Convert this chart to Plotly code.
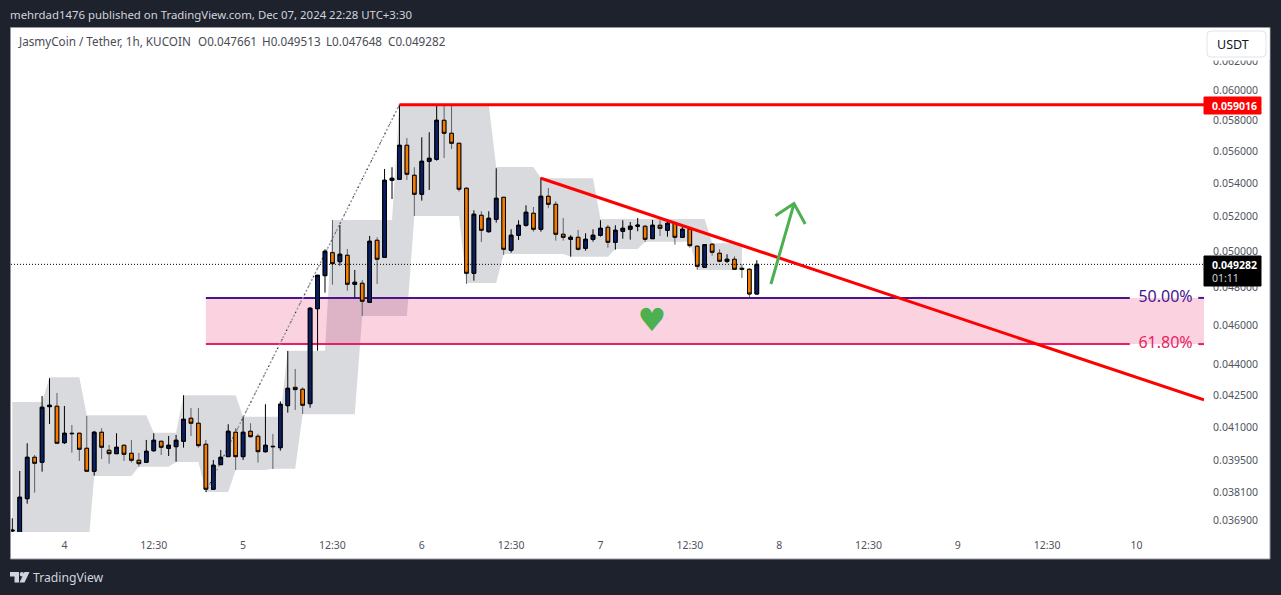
import pandas as pd
import plotly.graph_objects as go

# hourly bars, first one on Dec 3 at 17:30 (chart is in UTC+3:30)
opens = [.036476, .036107, .03783, .039639, .039417, .04197, .041989, .040298, .040728, .040728,
         .040043, .039018, .040774, .039953, .0398, .04018, .039818, .039506, .039417, .039935,
         .040362, .040043, .040116, .040362, .041423, .041191, .040225, .038233, .03931, .039667,
         .040774, .039667, .04082, .04059, .03989, .040135, .040071, .042017, .042895, .042802,
         .042112, .046877, .048657, .049936, .049431, .04979, .048187, .048241, .047218, .05064,
         .049677, .054188, .054249, .056371, .054495, .053339, .055362, .055487, .057984, .05714,
         .056499, .053701, .048789, .05209, .051134, .051854, .053158, .050071, .050928, .051505,
         .052208, .051272, .053219, .052739, .050984, .050697, .05081, .050184, .050697, .050928,
         .051388, .050526, .051157, .051272, .051447, .051447, .050731, .051505, .051215, .051622,
         .05081, .051272, .050299, .049122, .050413, .049902, .049454, .049565, .049065, .049009,
         .047661]
highs = [.037003, .039031, .040271, .039742, .04248, .043336, .042624, .042003, .041112, .040756,
         .041531, .040834, .040958, .040193, .040728, .040207, .040421, .039832, .040421, .040728,
         .040376, .040604, .04065, .042514, .041908, .041908, .040421, .039519, .039967, .041144,
         .040958, .041498, .041191, .040696, .042084, .040696, .042226, .044693, .043793, .042895,
         .046952, .04869, .050127, .051813, .051523, .050145, .048971, .048421, .050887, .05081,
         .054883, .054989, .059016, .056838, .054989, .056881, .057204, .059016, .058925, .059016,
         .056499, .053762, .052384, .052325, .052325, .054926, .053158, .051272, .051795, .05268,
         .052579, .054372, .05372, .052918, .051931, .050928, .051232, .051042, .051272, .051795,
         .051523, .051505, .051795, .051696, .051931, .051523, .051813, .051795, .051755, .051696,
         .051505, .05133, .050356, .050413, .05047, .050127, .049846, .049733, .049287, .049065,
         .049513]
lows = [.036242, .035836, .037617, .038087, .039, .041158, .040271, .040239, .039846, .039475,
        .039018, .038824, .039562, .039354, .0398, .039475, .039399, .039221, .039417, .03989,
        .039742, .039697, .039443, .040071, .040604, .040071, .038117, .038233, .03931, .039667,
        .039075, .039519, .040527, .039399, .039846, .039118, .039935, .041686, .041813, .041625,
        .041922, .044708, .047733, .048165, .049209, .04784, .047464, .046493, .047218, .048203,
        .049677, .053056, .054249, .054206, .052049, .052955, .053598, .055399, .055568, .056135,
        .053496, .048203, .048383, .050543, .051077, .051657, .049807, .049936, .050657, .051424,
        .051134, .051134, .052503, .050617, .050617, .049711, .050049, .050049, .050561, .050848,
        .050218, .050105, .050731, .050674, .051157, .050543, .050731, .050887, .050848, .050389,
        .05081, .050218, .048988, .049122, .049768, .049398, .049359, .049009, .048531, .047485,
        .047648]
closes = [.036505, .037891, .039639, .039372, .041941, .042036, .040271, .040728, .04071, .039998,
          .039018, .040774, .040089, .0398, .040089, .039773, .039506, .039354, .039908, .040407,
          .040089, .04018, .040407, .041376, .041191, .040162, .038233, .039283, .039639, .04082,
          .039667, .040774, .040571, .03989, .04018, .040116, .042084, .042848, .042783, .042036,
          .046899, .048679, .050015, .04932, .049846, .048187, .048296, .047271, .050583, .049565,
          .054188, .054311, .056371, .054557, .053339, .055362, .055549, .057984, .05714, .056499,
          .053641, .048789, .052149, .051215, .051913, .053098, .050127, .050928, .051505, .052267,
          .051272, .053219, .052739, .050984, .05081, .05081, .050127, .050697, .050928, .05133,
          .050526, .051215, .05133, .051447, .051505, .050697, .051505, .05133, .051622, .05081,
          .051272, .050332, .049175, .050389, .049959, .049454, .049565, .049009, .049009, .04766,
          .049282]

# shaded indicator band, one value per bar up to bar 98
band_upper = [.042193, .042193, .042193, .042193, .042193, .043385, .043385, .043385, .043385, .043385,
              .041564, .041564, .041564, .041564, .041564, .041564, .041564, .041564, .041564, .040756,
              .040756, .040756, .040756, .042514, .042514, .042514, .042514, .042514, .042514, .042514,
              .042514, .041498, .041498, .041498, .041498, .041498, .041498, .044708, .044708, .044708,
              .044708, .044708, .044708, .051813, .051813, .051813, .051813, .051813, .051813, .051813,
              .051813, .051813, .059016, .059016, .059016, .059016, .059016, .059016, .059016, .059016,
              .059016, .059016, .059016, .059016, .059016, .055008, .055008, .055008, .055008, .055008,
              .055008, .054311, .054311, .054311, .054311, .054311, .054311, .054311, .054311, .051872,
              .051872, .051872, .051872, .051872, .051872, .051872, .051872, .051872, .051872, .051872,
              .051872, .051872, .051872, .051872, .05047, .05047, .05047, .05047, .05047]
band_lower = [.035101, .035101, .035101, .035101, .035101, .035101, .035101, .035101, .035101, .035101,
              .035101, .03881, .03881, .03881, .03881, .03881, .03881, .03922, .03922, .03922,
              .03922, .03922, .039428, .039428, .039428, .039428, .038115, .038115, .038115, .038115,
              .039074, .039074, .039074, .039074, .039074, .039131, .039131, .039131, .039131, .041609,
              .041609, .041609, .041609, .041609, .041609, .041609, .041609, .046491, .046491, .046491,
              .046491, .046491, .046491, .046491, .052046, .052046, .052046, .052046, .052046, .052046,
              .052046, .048256, .048256, .048256, .048256, .048256, .049861, .049861, .049861, .049861,
              .049861, .049861, .049861, .049861, .049861, .049709, .049709, .049709, .049709, .049709,
              .049709, .050143, .050143, .050143, .050143, .050558, .050558, .050558, .050558, .050558,
              .050558, .050558, .048969, .048969, .048969, .048969, .048969, .048969, .048969]

# price axis and time axis labels
price_ticks = [.062, .06, .058, .056, .054, .052, .05, .048, .046, .044, .0425, .041, .0395, .0381, .0369]
price_labels = ['0.062000', '0.060000', '0.058000', '0.056000', '0.054000', '0.052000', '0.050000', '0.048000',
                '0.046000', '0.044000', '0.042500', '0.041000', '0.039500', '0.038100', '0.036900']
time_ticks = ['2024-12-04 00:30', '2024-12-04 12:30', '2024-12-05 00:30', '2024-12-05 12:30', '2024-12-06 00:30',
              '2024-12-06 12:30', '2024-12-07 00:30', '2024-12-07 12:30', '2024-12-08 00:30', '2024-12-08 12:30',
              '2024-12-09 00:30', '2024-12-09 12:30', '2024-12-10 00:30']
time_labels = ['4', '12:30', '5', '12:30', '6', '12:30', '7', '12:30', '8', '12:30', '9', '12:30', '10']

# drawings on the chart
x_range = ['2024-12-03 17:19:30', '2024-12-10 09:34:00']
last_close = .049282
swing_high = .059016
swing_low = .038115
fib_50 = .04745
fib_618 = .04504
trend_start = .05431
trend_end = .04229
arrow_times = ['2024-12-07 23:24', '2024-12-08 02:30', '2024-12-08 00:00', '2024-12-08 02:30', '2024-12-08 04:00']
arrow_prices = [.0482, .05278, .05206, .05278, .05158]
heart_time = ['2024-12-07 07:24']
heart_price = [.04612]

NAVY = '#0b1f63'
ORANGE = '#f57c00'
PURPLE = '#4a148c'
PINK = '#e91e63'
RED = '#ff0000'
GREEN = '#4caf50'
DARK = '#1e222d'
GRAY_TEXT = '#50535e'
TEXT_FONT = 'Noto Sans'

times = pd.date_range('2024-12-03 17:30', periods=len(opens), freq='h').strftime('%Y-%m-%d %H:%M').tolist()
fib_start = times[26]
gap_a = '2024-12-09 23:36'
gap_b = '2024-12-10 08:48'
label_time = '2024-12-10 04:24'

fig = go.Figure()

# gray band
fig.add_trace(go.Scatter(
    x=times[:99] + times[:99][::-1],
    y=band_upper + band_lower[::-1],
    fill='toself', fillcolor='#d9dade', mode='lines', line=dict(width=0),
    hoverinfo='skip', zorder=0
))

# fib zone between the two levels
fig.add_trace(go.Scatter(
    x=[fib_start, x_range[1], x_range[1], fib_start],
    y=[fib_50, fib_50, fib_618, fib_618],
    fill='toself', fillcolor='rgba(233,30,99,0.2)', mode='lines', line=dict(width=0),
    hoverinfo='skip', zorder=1
))
fig.add_trace(go.Scatter(
    x=[fib_start, gap_a, None, gap_b, x_range[1]], y=[fib_50, fib_50, None, fib_50, fib_50],
    mode='lines', line=dict(color=PURPLE, width=2), hoverinfo='skip', zorder=1
))
fig.add_trace(go.Scatter(
    x=[fib_start, gap_a, None, gap_b, x_range[1]], y=[fib_618, fib_618, None, fib_618, fib_618],
    mode='lines', line=dict(color=PINK, width=2), hoverinfo='skip', zorder=1
))

# dotted swing line from low to high
fig.add_trace(go.Scatter(
    x=[fib_start, times[52]], y=[swing_low, swing_high],
    mode='lines', line=dict(color='#9598a1', width=1.5, dash='2px,2px'), hoverinfo='skip', zorder=1
))
fig.add_trace(go.Scatter(
    x=[fib_start, times[52]], y=[swing_low, swing_high],
    mode='lines', line=dict(color='#131722', width=1, dash='1px,9px'), hoverinfo='skip', zorder=1
))

# wicks first, then bodies with a black edge (down wicks are gray in the original)
fig.add_trace(go.Candlestick(
    x=times, open=opens, high=highs, low=lows, close=closes,
    increasing=dict(line=dict(color='#000000', width=1), fillcolor=NAVY),
    decreasing=dict(line=dict(color='#5d606b', width=1), fillcolor=ORANGE),
    whiskerwidth=0, hoverinfo='skip', zorder=2
))
body_top = [max(o, c) for o, c in zip(opens, closes)]
body_bottom = [min(o, c) for o, c in zip(opens, closes)]
fig.add_trace(go.Candlestick(
    x=times, open=opens, high=body_top, low=body_bottom, close=closes,
    increasing=dict(line=dict(color='#000000', width=1), fillcolor=NAVY),
    decreasing=dict(line=dict(color='#000000', width=1), fillcolor=ORANGE),
    whiskerwidth=0, hoverinfo='skip', zorder=2
))

# last price line
fig.add_trace(go.Scatter(
    x=x_range, y=[last_close, last_close],
    mode='lines', line=dict(color='#000000', width=1, dash='1px,2px'), hoverinfo='skip', zorder=3
))

# red lines
fig.add_trace(go.Scatter(
    x=[times[52], x_range[1]], y=[swing_high, swing_high],
    mode='lines', line=dict(color=RED, width=3), hoverinfo='skip', zorder=4
))
fig.add_trace(go.Scatter(
    x=[times[71], x_range[1]], y=[trend_start, trend_end],
    mode='lines', line=dict(color=RED, width=3), hoverinfo='skip', zorder=4
))

# green arrow and heart
fig.add_trace(go.Scatter(
    x=arrow_times, y=arrow_prices,
    mode='lines', line=dict(color=GREEN, width=3), hoverinfo='skip', zorder=4
))
fig.add_trace(go.Scatter(
    x=heart_time, y=heart_price, mode='text', text=['\u2665'],
    textfont=dict(family='DejaVu Sans', size=32, color=GREEN), hoverinfo='skip', zorder=4
))

# fib labels
fig.add_trace(go.Scatter(
    x=[label_time, label_time], y=[fib_50, fib_618], mode='text', text=['50.00%', '61.80%'],
    textfont=dict(family=TEXT_FONT, size=16, color=[PURPLE, PINK]), hoverinfo='skip', zorder=4
))


# helpers for the page furniture, pixel position to paper fraction
def fx(x):
    return (x - 11) / 1193


def fy(y):
    return (532 - y) / 504


def box(x0, y0, x1, y1, fill, line=None, layer='above'):
    return dict(type='rect', xref='paper', yref='paper', x0=fx(x0), y0=fy(y0), x1=fx(x1), y1=fy(y1),
                fillcolor=fill, line=dict(color=line or fill, width=1), layer=layer)


def label(x, y, text, color, size=12, anchor='left', weight=None):
    fig.add_annotation(xref='paper', yref='paper', x=fx(x), y=fy(y), text=text, showarrow=False,
                       xanchor=anchor, yanchor='middle', borderpad=0, borderwidth=0,
                       font=dict(family=TEXT_FONT, size=size, color=color, weight=weight))


shapes = [
    box(10.5, 27.5, 1270, 559, '#ffffff', '#9598a1', 'below'),
    box(1204, 97, 1261, 114, RED),
    box(1204, 256, 1261, 286, '#000000'),
    # the top tick label is half hidden behind the currency button
    box(1205, 29, 1269, 60, '#ffffff'),
    dict(type='path', xref='paper', yref='paper', layer='above', fillcolor='#ffffff',
         line=dict(color='#e0e3eb', width=1),
         path=f'M {fx(1211)} {fy(31)} L {fx(1262)} {fy(31)} Q {fx(1266)} {fy(31)} {fx(1266)} {fy(35)} '
              f'L {fx(1266)} {fy(53)} Q {fx(1266)} {fy(57)} {fx(1262)} {fy(57)} L {fx(1211)} {fy(57)} '
              f'Q {fx(1207)} {fy(57)} {fx(1207)} {fy(53)} L {fx(1207)} {fy(35)} Q {fx(1207)} {fy(31)} {fx(1211)} {fy(31)} Z'),
    # TradingView mark
    dict(type='path', xref='paper', yref='paper', layer='above', fillcolor='#d1d4dc', line=dict(width=0),
         path=f'M {fx(10)} {fy(572)} L {fx(19)} {fy(572)} L {fx(19)} {fy(582.5)} L {fx(14.5)} {fy(582.5)} '
              f'L {fx(14.5)} {fy(576.5)} L {fx(10)} {fy(576.5)} Z'),
    dict(type='path', xref='paper', yref='paper', layer='above', fillcolor='#d1d4dc', line=dict(width=0),
         path=f'M {fx(24.5)} {fy(572)} L {fx(29.5)} {fy(572)} L {fx(24.5)} {fy(582.5)} L {fx(19.5)} {fy(582.5)} Z'),
    dict(type='circle', xref='paper', yref='paper', layer='above', fillcolor='#d1d4dc', line=dict(width=0),
         x0=fx(19.8), y0=fy(576.4), x1=fx(24), y1=fy(572)),
]

fig.update_layout(
    width=1281, height=595,
    margin=dict(l=11, r=77, t=28, b=63),
    paper_bgcolor=DARK,
    plot_bgcolor='rgba(0,0,0,0)',
    showlegend=False,
    boxgap=0.3,
    shapes=shapes,
    xaxis=dict(
        type='date', range=x_range, rangeslider=dict(visible=False), showgrid=False, zeroline=False,
        tickmode='array', tickvals=time_ticks, ticktext=time_labels, tickangle=0,
        ticks='outside', ticklen=3, tickcolor='rgba(0,0,0,0)',
        tickfont=dict(family=TEXT_FONT, size=10.5, color=GRAY_TEXT), showline=False
    ),
    yaxis=dict(
        type='log', range=[-1.43851, -1.19146], side='right', showgrid=False, zeroline=False,
        tickmode='array', tickvals=price_ticks, ticktext=price_labels,
        ticks='outside', ticklen=6, tickcolor='rgba(0,0,0,0)',
        tickfont=dict(family=TEXT_FONT, size=10.5, color=GRAY_TEXT), showline=False
    ),
)

label(10, 14, 'mehrdad1476 published on TradingView.com, Dec 07, 2024 22:28 UTC+3:30', '#d1d4dc', 11.4)
label(18, 41, 'JasmyCoin / Tether, 1h, KUCOIN', '#4a4c55', 11.7)
label(198, 41, 'O0.047661', '#4a4c55', 11.7)
label(262, 41, 'H0.049513', '#4a4c55', 11.7)
label(326, 41, 'L0.047648', '#4a4c55', 11.7)
label(388, 41, 'C0.049282', '#4a4c55', 11.7)
label(1217, 44, 'USDT', '#131722', 12.5)
label(1212, 105.5, '0.059016', '#ffffff', 10.5, weight='bold')
label(1212, 264.5, '0.049282', '#ffffff', 10.5, weight='bold')
label(1212, 278, '01:11', '#d1d4dc', 10.5)
label(33, 577, 'TradingView', '#d1d4dc', 12.2)

# the page's default body margin would push the whole chart 8px in
fig.write_html("out.html", config={'displayModeBar': False}, post_script="document.body.style.margin='0';")
